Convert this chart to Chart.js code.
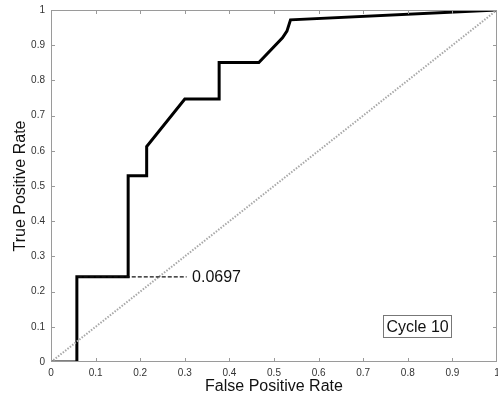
<!DOCTYPE html>
<html>
<head>
<meta charset="utf-8">
<script src="https://cdn.jsdelivr.net/npm/chart.js@4"></script>
<style>
  body { margin: 0; background: #fff; }
  #wrap { width: 498px; height: 400px; }
</style>
</head>
<body>
<div id="wrap"><canvas id="roc" width="498" height="400"></canvas></div>
<script>
// ROC curve
const fpr = [0, 0.058, 0.058, 0.173, 0.173, 0.2145, 0.2145, 0.300, 0.377, 0.377, 0.466, 0.519, 0.529, 0.537, 1];
const tpr = [0, 0, 0.242, 0.242, 0.529, 0.529, 0.612, 0.747, 0.747, 0.851, 0.851, 0.921, 0.94, 0.972, 1];

// chance line
const chanceX = [0, 1];
const chanceY = [0, 1];

// threshold marker
const threshX = [0.06, 0.304];
const threshY = [0.242, 0.242];
const threshLabel = "0.0697";

const cycleLabel = "Cycle 10";
const tickLabels = ["0", "0.1", "0.2", "0.3", "0.4", "0.5", "0.6", "0.7", "0.8", "0.9", "1"];

function pts(xs, ys) {
    return xs.map((x, i) => ({x: x, y: ys[i]}));
}

const FONT = "'Liberation Sans', Arial, sans-serif";

// MATLAB style box, inward ticks and the two text labels
const boxPlugin = {
    id: "box",
    afterDraw(chart) {
        const ctx = chart.ctx;
        const a = chart.chartArea;
        const xs = chart.scales.x, ys = chart.scales.y;
        ctx.save();
        ctx.strokeStyle = "#9a9a9a";
        ctx.lineWidth = 1;
        ctx.strokeRect(a.left + 0.5, a.top + 0.5, a.right - a.left - 1, a.bottom - a.top - 1);
        ctx.beginPath();
        for (let i = 1; i < tickLabels.length - 1; i++) {
            const v = i / 10;
            const px = Math.round(xs.getPixelForValue(v)) + 0.5;
            ctx.moveTo(px, a.bottom); ctx.lineTo(px, a.bottom - 4);
            ctx.moveTo(px, a.top); ctx.lineTo(px, a.top + 4);
            const py = Math.round(ys.getPixelForValue(v)) + 0.5;
            ctx.moveTo(a.left, py); ctx.lineTo(a.left + 4, py);
            ctx.moveTo(a.right, py); ctx.lineTo(a.right - 4, py);
        }
        ctx.stroke();

        // threshold value
        ctx.fillStyle = "#111";
        ctx.font = "16px " + FONT;
        ctx.textAlign = "left";
        ctx.textBaseline = "middle";
        ctx.fillText(threshLabel, xs.getPixelForValue(0.3163), ys.getPixelForValue(0.242) + 1);

        // cycle box
        const cx = xs.getPixelForValue(0.822), cy = ys.getPixelForValue(0.102);
        ctx.textAlign = "center";
        ctx.fillText(cycleLabel, cx, cy + 1);
        const w = ctx.measureText(cycleLabel).width;
        ctx.strokeStyle = "#777";
        ctx.strokeRect(Math.round(cx - w / 2 - 3) + 0.5, Math.round(cy - 11) + 0.5, Math.round(w + 6), 22);
        ctx.restore();
    }
};

new Chart(document.getElementById("roc").getContext("2d"), {
    type: "scatter",
    data: {
        datasets: [{
            label: "threshold",
            data: pts(threshX, threshY),
            showLine: true,
            borderColor: "#111",
            borderWidth: 1.2,
            borderDash: [4, 2],
            pointRadius: 0
        }, {
            label: "chance",
            data: pts(chanceX, chanceY),
            showLine: true,
            borderColor: "#a8a8a8",
            borderWidth: 2,
            borderDash: [1.5, 1.5],
            pointRadius: 0
        }, {
            label: "ROC",
            data: pts(fpr, tpr),
            showLine: true,
            borderColor: "#000",
            borderWidth: 3,
            borderJoinStyle: "miter",
            pointRadius: 0
        }]
    },
    options: {
        responsive: false,
        animation: false,
        layout: { padding: { top: 10, right: 1, left: 0, bottom: 0 } },
        plugins: {
            legend: { display: false },
            tooltip: { enabled: false }
        },
        scales: {
            x: {
                type: "linear",
                min: 0, max: 1,
                grid: { display: false, drawTicks: false },
                border: { display: false },
                ticks: {
                    stepSize: 0.1,
                    autoSkip: false,
                    maxRotation: 0,
                    padding: 5,
                    color: "#333",
                    font: { family: FONT, size: 10 },
                    callback: (v, i) => tickLabels[i]
                },
                title: {
                    display: true,
                    text: "False Positive Rate",
                    color: "#111",
                    font: { family: FONT, size: 16 },
                    padding: { top: 0, bottom: 4 }
                },
                afterFit(s) { s.height = 38; s.paddingLeft = 0; s.paddingRight = 0; }
            },
            y: {
                type: "linear",
                min: 0, max: 1,
                grid: { display: false, drawTicks: false },
                border: { display: false },
                ticks: {
                    stepSize: 0.1,
                    autoSkip: false,
                    padding: 6,
                    color: "#333",
                    font: { family: FONT, size: 10 },
                    callback: (v, i) => tickLabels[i]
                },
                title: {
                    display: true,
                    text: "True Positive Rate",
                    color: "#111",
                    font: { family: FONT, size: 16 },
                    padding: { top: 11, bottom: 0 }
                },
                afterFit(s) { s.width = 51; s.paddingTop = 0; s.paddingBottom = 0; }
            }
        }
    },
    plugins: [boxPlugin]
});
</script>
</body>
</html>
